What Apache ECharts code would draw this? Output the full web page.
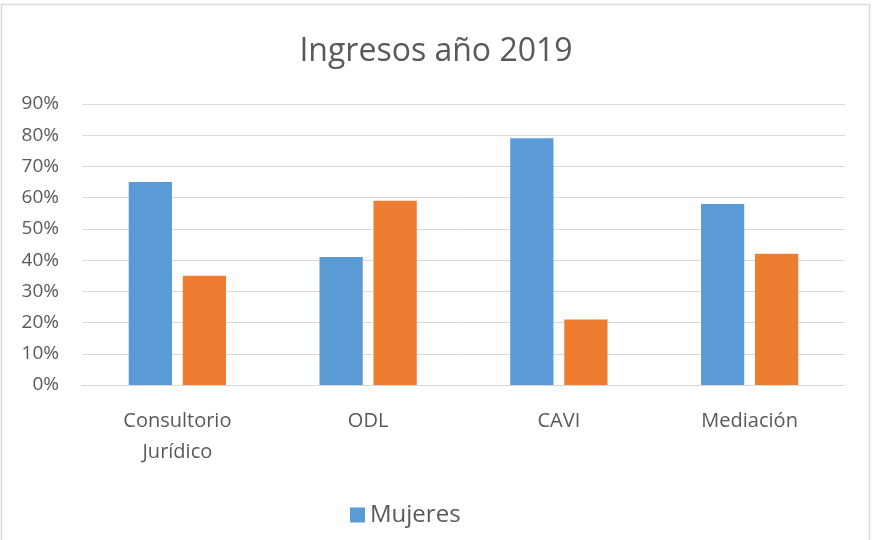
<!DOCTYPE html>
<html>
<head>
<meta charset="utf-8">
<script src="https://cdn.jsdelivr.net/npm/echarts@6/dist/echarts.min.js"></script>
<style>
  html, body { margin: 0; padding: 0; background: #fff; }
  #chart { width: 872px; height: 540px; }
</style>
</head>
<body>
<div id="chart"></div>
<script>
const categories = ["Consultorio\nJurídico", "ODL", "CAVI", "Mediación"];
const mujeres = [65, 41, 79, 58];
const hombres = [35, 59, 21, 42];
const yTicks = [0, 90, 10]; // min, max, interval

const font = "Open Sans";
const textColor = "#595959";

const chart = echarts.init(document.getElementById("chart"));
chart.setOption({
  animation: false,
  title: {
    text: "Ingresos año 2019",
    left: "center",
    top: 31,
    textStyle: { fontFamily: font, fontSize: 32, fontWeight: "normal", color: textColor }
  },
  legend: {
    data: ["Mujeres"],
    left: 345,
    top: 498,
    itemWidth: 15,
    itemHeight: 15,
    itemGap: 8,
    icon: "rect",
    textStyle: { fontFamily: font, fontSize: 24, color: textColor }
  },
  grid: { left: 82, right: 27, top: 104, bottom: 155 },
  xAxis: {
    type: "category",
    data: categories,
    axisLine: { lineStyle: { color: "#d9d9d9" } },
    axisTick: { show: false },
    axisLabel: { fontFamily: font, fontSize: 20, color: textColor, margin: 21, lineHeight: 31 }
  },
  yAxis: {
    type: "value",
    min: yTicks[0],
    max: yTicks[1],
    interval: yTicks[2],
    axisLine: { show: false },
    axisTick: { show: false },
    splitLine: { lineStyle: { color: "#d9d9d9" } },
    axisLabel: { fontFamily: font, fontSize: 19, color: textColor, margin: 23, formatter: "{value}%" }
  },
  series: [
    {
      name: "Mujeres",
      type: "bar",
      data: mujeres,
      barGap: "25%",
      barCategoryGap: "49%",
      itemStyle: { color: "#5b9bd5" }
    },
    {
      name: "Hombres",
      type: "bar",
      data: hombres,
      itemStyle: { color: "#ed7d31" }
    }
  ],
  graphic: [{
    type: "rect",
    shape: { x: 1.5, y: 4.5, width: 868, height: 600 },
    style: { fill: "none", stroke: "#d9d9d9", lineWidth: 1.5 },
    silent: true
  }]
});
</script>
</body>
</html>
